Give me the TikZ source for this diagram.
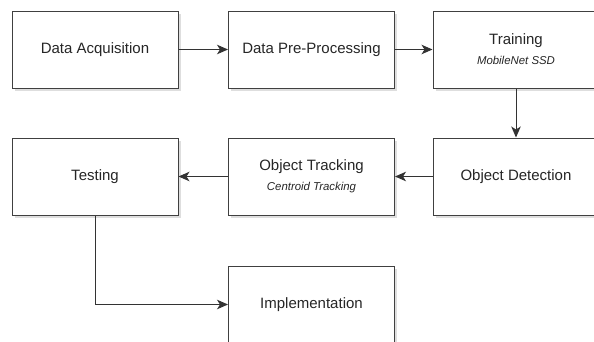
\documentclass[tikz,border=0pt]{standalone}
\usepackage{fontspec}
\setmainfont{Liberation Sans}
\usetikzlibrary{arrows.meta,shadows}
\tikzset{
  stagebox/.style={draw=black!75, line width=1pt, fill=white,
    minimum width=166pt, minimum height=77pt, align=center,
    text=black!85, font=\fontsize{15}{20}\selectfont,
    drop shadow={shadow xshift=2.5pt, shadow yshift=-2.5pt, fill=black!25, opacity=0.5}},
  flow/.style={draw=black!80, line width=1pt, -{Stealth[length=11pt,width=9.5pt,inset=3pt]}}
}
\newcommand{\subtxt}[1]{{\fontsize{11.4}{20}\selectfont\itshape #1}}

\begin{document}
\begin{tikzpicture}[x=1pt,y=-1pt]
			%%%%% START %%%%%
			\useasboundingbox[fill=white] (0,0) rectangle (594,341);
			
			\node[stagebox] (acq) at (95, 49.5) {Data Acquisition};
			\node[stagebox] (pre) at (311.5, 49.5) {Data Pre-Processing};
			\node[stagebox] (train) at (516, 49.5) {Training\\\subtxt{MobileNet SSD}};
			
			\node[stagebox] (test) at (95, 176.5) {Testing};
			\node[stagebox] (track) at (311.5, 176.5) {Object Tracking\\\subtxt{Centroid Tracking}};
			\node[stagebox] (det) at (516, 176.5) {Object Detection};
			
			\node[stagebox] (impl) at (311.5, 304.5) {Implementation};
			
			\draw[flow] (acq) -- (pre);
			\draw[flow] (pre) -- (train);
			\draw[flow] (train) -- (det);
			\draw[flow] (det) -- (track);
			\draw[flow] (track) -- (test);
			\draw[flow] (test) |- (impl);
			
			%%%%% END %%%%%
\end{tikzpicture}
\end{document}
